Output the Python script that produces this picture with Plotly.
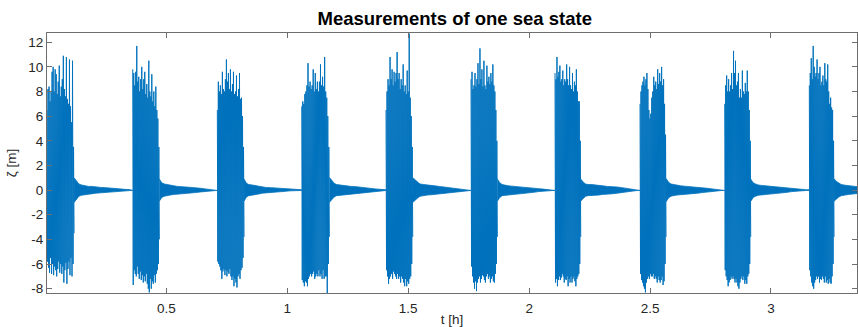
import numpy as np
import plotly.graph_objects as go

BLUE = "#0072BD"

# burst (wave-packet) windows in hours
burst_start_h = [0.006, 0.3606, 0.7105, 1.0596, 1.4082, 1.7597, 2.1071, 2.4587, 2.8089, 3.1588]
burst_end_h = [0.1179, 0.4706, 0.8209, 1.1737, 1.5186, 1.8685, 2.2134, 2.5662, 2.9164, 3.2610]

# successive crest (up) and trough (down) elevations in each burst [m]
burst_up = [
    [6.5, 8.2, 8.4, 7.2, 8.0, 9.6, 10.0, 8.0, 9.8, 9.4, 7.8, 8.8, 10.1, 7.6, 8.4, 9.0, 10.9, 8.2, 7.6, 10.8, 7.4, 7.0, 10.6, 6.8, 5.5, 10.5, 3.5],
    [9.8, 9.5, 8.5, 9.6, 11.7, 8.8, 9.2, 8.0, 9.0, 10.0, 8.2, 9.0, 9.6, 7.8, 8.6, 7.5, 10.5, 8.0, 7.6, 9.4, 7.2, 8.0, 6.8, 8.4, 6.5, 5.8, 3.5],
    [6.5, 8.8, 8.0, 8.5, 7.8, 9.6, 8.2, 8.0, 9.0, 10.6, 8.8, 9.5, 8.2, 9.8, 8.0, 8.6, 9.6, 7.8, 8.0, 9.3, 7.6, 8.2, 9.5, 7.4, 7.5, 6.0, 3.5],
    [6.8, 7.2, 7.0, 7.8, 8.0, 8.5, 10.3, 8.4, 8.8, 8.2, 8.5, 9.8, 8.0, 9.5, 8.2, 8.8, 8.0, 8.8, 10.2, 8.5, 9.2, 8.4, 10.8, 8.0, 7.5, 6.0, 3.5],
    [6.5, 8.0, 9.0, 8.5, 10.8, 9.0, 9.8, 8.5, 9.6, 8.8, 9.5, 11.2, 9.0, 9.5, 8.2, 9.0, 8.5, 10.2, 8.0, 8.5, 7.8, 9.7, 8.0, 12.7, 7.5, 6.0, 3.5],
    [9.0, 9.6, 8.2, 8.5, 9.5, 8.4, 9.0, 10.3, 8.6, 11.5, 9.0, 9.8, 8.4, 10.5, 8.5, 8.2, 10.1, 8.8, 9.2, 8.6, 9.5, 8.8, 10.2, 8.5, 8.0, 6.5, 4.0],
    [9.5, 9.0, 10.8, 9.2, 9.6, 10.1, 8.8, 9.0, 9.7, 8.5, 9.0, 8.8, 10.2, 9.0, 8.5, 10.0, 8.5, 8.2, 9.5, 8.0, 8.8, 8.5, 9.8, 8.0, 7.2, 7.2, 4.0],
    [7.0, 8.0, 8.5, 8.8, 9.2, 8.5, 9.0, 9.5, 8.2, 6.5, 5.8, 6.2, 7.5, 8.0, 9.2, 8.5, 8.8, 8.2, 9.8, 8.6, 9.5, 8.8, 10.0, 8.5, 9.0, 7.0, 4.5],
    [7.0, 8.5, 9.3, 8.0, 9.0, 8.0, 8.5, 9.5, 8.2, 11.3, 9.5, 10.5, 8.5, 8.8, 9.5, 7.5, 8.2, 7.5, 9.7, 8.0, 7.8, 8.7, 8.0, 9.7, 8.0, 6.5, 4.0],
    [8.5, 9.5, 10.7, 9.0, 11.7, 10.0, 9.2, 9.5, 10.6, 9.0, 9.5, 10.0, 8.5, 8.8, 9.3, 8.5, 10.3, 9.0, 8.8, 10.2, 8.0, 7.0, 7.5, 6.7, 6.5, 4.0],
]
burst_down = [
    [-5.8, -6.3, -6.7, -5.5, -6.8, -6.0, -6.9, -6.2, -6.5, -7.0, -6.4, -5.8, -6.7, -6.0, -6.8, -6.2, -7.5, -6.5, -5.9, -7.6, -6.4, -5.8, -6.9, -5.5, -7.0, -6.0, -3.5],
    [-7.7, -6.5, -6.8, -7.0, -6.2, -6.8, -7.2, -6.6, -7.3, -6.9, -7.5, -7.0, -7.4, -6.8, -7.6, -8.0, -8.3, -7.2, -8.0, -7.4, -7.6, -6.9, -7.5, -6.8, -6.5, -6.0, -4.0],
    [-5.8, -6.0, -6.2, -6.5, -7.2, -6.6, -6.4, -6.9, -6.5, -7.0, -6.6, -6.8, -6.4, -7.0, -7.3, -7.0, -7.8, -7.2, -7.5, -7.9, -7.0, -6.8, -7.2, -6.5, -6.3, -5.5, -3.8],
    [-7.3, -7.5, -7.8, -7.4, -7.5, -7.8, -7.2, -7.0, -6.8, -7.0, -6.8, -6.6, -7.2, -7.0, -6.8, -7.0, -6.5, -7.0, -6.8, -7.2, -6.5, -7.2, -7.0, -7.0, -8.4, -6.0, -3.8],
    [-6.5, -7.0, -7.6, -7.2, -7.0, -6.8, -7.2, -6.6, -6.8, -7.0, -7.2, -6.8, -7.2, -7.0, -7.5, -7.0, -7.2, -7.5, -7.8, -7.2, -7.8, -7.4, -7.6, -7.2, -7.0, -6.0, -3.8],
    [-6.2, -7.0, -7.5, -8.0, -7.4, -8.2, -7.5, -7.2, -7.0, -7.5, -7.2, -6.9, -7.0, -7.3, -7.5, -7.0, -6.8, -7.2, -7.0, -7.5, -7.2, -7.0, -7.4, -7.5, -6.8, -6.0, -3.8],
    [-7.5, -7.2, -7.8, -7.3, -7.0, -7.3, -7.1, -6.8, -7.0, -7.5, -7.2, -7.3, -7.0, -7.8, -7.2, -7.5, -7.0, -7.5, -7.2, -7.0, -7.4, -7.8, -7.2, -7.0, -6.8, -6.0, -3.8],
    [-6.8, -7.3, -7.5, -7.8, -8.0, -8.3, -7.5, -7.2, -7.0, -7.2, -6.8, -7.0, -7.0, -6.8, -7.2, -7.0, -7.2, -7.5, -7.0, -7.3, -7.5, -7.3, -7.0, -7.7, -7.4, -6.0, -3.8],
    [-6.5, -7.0, -7.3, -7.8, -7.5, -7.3, -7.0, -7.2, -7.0, -7.2, -7.5, -7.2, -7.5, -7.8, -8.0, -7.5, -7.2, -7.0, -7.3, -7.0, -7.6, -7.3, -7.6, -7.0, -6.8, -6.0, -3.8],
    [-6.5, -7.0, -7.5, -7.8, -8.0, -7.5, -7.3, -7.0, -7.2, -7.0, -7.5, -7.2, -7.3, -7.0, -7.2, -7.5, -7.0, -7.5, -7.3, -7.6, -7.2, -7.5, -7.6, -7.0, -6.0, -3.8],
]

# decaying residual oscillation after each burst: envelope amplitude [m]
tail_offset_h = [0, 0.004, 0.01, 0.02, 0.03, 0.045, 0.06, 0.075, 0.09, 0.11, 0.13, 0.15, 0.17, 0.19, 0.21, 0.23, 0.25]
tail_amp = [
    [1.0, 0.9, 0.7, 0.5, 0.42, 0.35, 0.3, 0.3, 0.25, 0.22, 0.2, 0.15, 0.14, 0.1, 0.06, 0.04, 0.03],
    [0.9, 0.8, 0.6, 0.5, 0.45, 0.4, 0.35, 0.3, 0.3, 0.25, 0.22, 0.2, 0.15, 0.1, 0.06, 0.04, 0.03],
    [0.9, 0.75, 0.55, 0.45, 0.4, 0.38, 0.32, 0.25, 0.22, 0.2, 0.18, 0.12, 0.1, 0.06, 0.04, 0.03, 0.03],
    [1.0, 0.95, 0.8, 0.55, 0.45, 0.4, 0.35, 0.35, 0.3, 0.28, 0.25, 0.2, 0.15, 0.1, 0.06, 0.04, 0.03],
    [1.0, 0.95, 0.85, 0.65, 0.5, 0.45, 0.4, 0.38, 0.35, 0.3, 0.25, 0.22, 0.2, 0.15, 0.1, 0.05, 0.03],
    [0.9, 0.8, 0.6, 0.45, 0.4, 0.35, 0.32, 0.3, 0.28, 0.25, 0.22, 0.18, 0.12, 0.08, 0.05, 0.03, 0.03],
    [0.9, 0.8, 0.65, 0.5, 0.45, 0.45, 0.4, 0.4, 0.35, 0.3, 0.3, 0.25, 0.2, 0.15, 0.08, 0.04, 0.03],
    [0.95, 0.85, 0.65, 0.5, 0.45, 0.4, 0.35, 0.32, 0.3, 0.28, 0.25, 0.2, 0.15, 0.1, 0.06, 0.03, 0.03],
    [0.9, 0.8, 0.6, 0.5, 0.42, 0.38, 0.35, 0.3, 0.28, 0.25, 0.22, 0.18, 0.12, 0.08, 0.05, 0.03, 0.03],
    [0.9, 0.85, 0.7, 0.55, 0.45, 0.4, 0.35, 0.32, 0.3, 0.28],
]

x_ticks = [0.5, 1, 1.5, 2, 2.5, 3]
x_tick_labels = ["0.5", "1", "1.5", "2", "2.5", "3"]
y_ticks = [-8, -6, -4, -2, 0, 2, 4, 6, 8, 10, 12]
y_tick_labels = ["-8", "-6", "-4", "-2", "0", "2", "4", "6", "8", "10", "12"]
x_range = [0.006, 3.356]
y_range = [-8.35, 12.75]

fig = go.Figure()

# residual oscillation envelopes
for i, amps in enumerate(tail_amp):
    t0 = burst_end_h[i]
    t_next = burst_start_h[i + 1] if i + 1 < len(burst_start_h) else x_range[1]
    tt = [min(t0 + o, t_next) for o in tail_offset_h[: len(amps)]]
    a = list(amps)
    xs = tt + tt[::-1]
    ys = a + [-v for v in a[::-1]]
    fig.add_trace(go.Scatter(x=xs, y=ys, mode="lines", fill="toself",
                             fillcolor=BLUE, line=dict(color=BLUE, width=0.8),
                             hoverinfo="skip", showlegend=False))

# bursts as alternating crest/trough line
xs, ys = [], []
for s, e, up, dn in zip(burst_start_h, burst_end_h, burst_up, burst_down):
    n = len(up)
    t = np.linspace(s, e, 2 * n)
    for k in range(n):
        xs += [t[2 * k], t[2 * k + 1]]
        ys += [up[k], dn[k]]
    xs.append(None)
    ys.append(None)
fig.add_trace(go.Scatter(x=xs, y=ys, mode="lines", line=dict(color=BLUE, width=1),
                         showlegend=False))

FONT = "Liberation Sans"
axis_common = dict(showline=True, linecolor="#6e6e6e", linewidth=1, mirror="ticks",
                   ticks="inside", ticklen=5, tickcolor="#6e6e6e", showgrid=False,
                   zeroline=False, tickfont=dict(family=FONT, size=13.5, color="#262626"))

fig.update_layout(
    width=858, height=327,
    margin=dict(l=47, r=1, t=33, b=34),
    plot_bgcolor="white", paper_bgcolor="white",
    title=dict(text="<b>Measurements of one sea state</b>", x=0.530, xanchor="center",
               y=0.943, yanchor="middle",
               font=dict(family=FONT, size=18.5, color="black")),
    xaxis=dict(range=x_range, tickvals=x_ticks, ticktext=x_tick_labels,
               ticklabelstandoff=3,
               title=dict(text="t [h]", standoff=1,
                          font=dict(family=FONT, size=13.5, color="#262626")),
               **axis_common),
    yaxis=dict(range=y_range, tickvals=y_ticks, ticktext=y_tick_labels,
               title=dict(text="ζ [m]", standoff=8,
                          font=dict(family=FONT, size=13.5, color="#262626")),
               **axis_common),
)

fig.write_html("out.html")
